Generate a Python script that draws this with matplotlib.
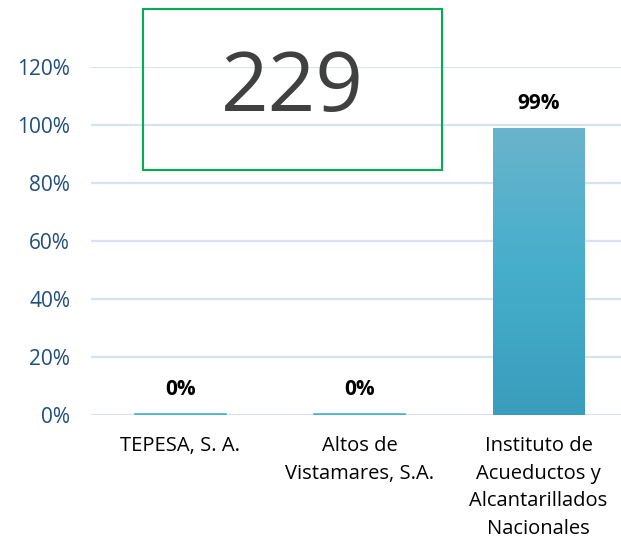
import matplotlib.pyplot as plt
import numpy as np
from matplotlib.colors import LinearSegmentedColormap
from matplotlib.patches import Rectangle

categories = ["TEPESA, S. A.", "Altos de\nVistamares, S.A.",
              "Instituto de\nAcueductos y\nAlcantarillados\nNacionales"]
values = [0.003, 0.003, 0.99]
labels = ["0%", "0%", "99%"]
yticks = [0, 0.2, 0.4, 0.6, 0.8, 1.0, 1.2]
box_text = "229"

plt.rcParams['font.family'] = ['Open Sans', 'DejaVu Sans']

fig = plt.figure(figsize=(6.21, 5.43), dpi=100)
ax = fig.add_axes([91 / 621, 128 / 543, 537 / 621, 348 / 543])

x = np.arange(len(categories))
width = 0.51
grad = LinearSegmentedColormap.from_list("bar", ["#3A9DBD", "#45AECB", "#6AB4CC"])

for yv in yticks:
    ax.axhline(yv, color="#D9E2F1", lw=1.6, zorder=0)

for xi, v, lab in zip(x, values, labels):
    bars = ax.bar(xi, v, width, color="none", edgecolor="none", zorder=2)
    rect = bars[0]
    img = ax.imshow(np.linspace(0, 1, 256).reshape(-1, 1), cmap=grad, origin="lower",
                    extent=[xi - width / 2, xi + width / 2, 0, v], aspect="auto", zorder=2)
    img.set_clip_path(rect)
    if v < 0.01:
        ax.plot([xi - width / 2, xi + width / 2], [0.002, 0.002], color="#4BB4D8", lw=1.2, zorder=3)
    ax.text(xi, v + 0.066, lab, ha="center", va="baseline", fontsize=15,
            fontweight="bold", color="black")

ax.set_aspect("auto")
ax.set_xlim(-0.5, 2.5)
ax.set_ylim(0, 1.2)

ax.set_yticks(yticks)
ax.set_yticklabels([f"{int(round(t * 100))}%" for t in yticks], color="#1F4E79", fontsize=15)
ax.set_xticks(x)
ax.set_xticklabels(categories, fontsize=14.5, color="black", linespacing=1.52, va="top")
ax.tick_params(axis="both", length=0)
ax.tick_params(axis="y", pad=15)
ax.tick_params(axis="x", pad=15)
for s in ax.spines.values():
    s.set_visible(False)

# green box with the number
fig.patches.append(Rectangle((143 / 621, 1 - 170 / 543), 299 / 621, 161 / 543,
                             transform=fig.transFigure, fill=False,
                             edgecolor="#00B050", lw=1.5, zorder=5))
fig.text(292 / 621, 1 - 90 / 543, box_text, ha="center", va="center",
         fontsize=60, color="#404040")

fig.savefig("out.png", dpi=100)
plt.close()
